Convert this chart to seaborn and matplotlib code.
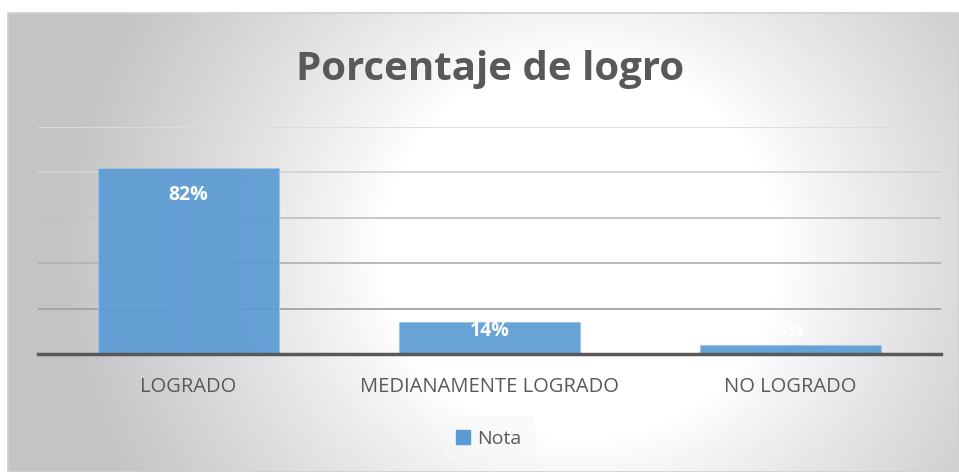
import numpy as np
import pandas as pd
import seaborn as sns
import matplotlib.pyplot as plt
from matplotlib.patches import Rectangle

categorias = ['LOGRADO', 'MEDIANAMENTE LOGRADO', 'NO LOGRADO']
porcentajes = [82, 14, 4]
serie = 'Nota'
titulo = 'Porcentaje de logro'

df = pd.DataFrame({'categoria': categorias, 'valor': porcentajes})

sns.set_style('white')
plt.rcParams['font.family'] = ['Open Sans', 'DejaVu Sans']

W, H = 959, 472
fig = plt.figure(figsize=(W / 100, H / 100), dpi=100)

# fondo con degradado radial (marco del grafico)
bg = fig.add_axes([8 / W, 0, 951 / W, 459 / H], zorder=0)
yy, xx = np.mgrid[0:459, 0:951]
r = np.hypot((xx + 8 - 580) * 0.95, yy + 13 - 250)
t = np.clip((r - 190) / 300, 0, 1) ** 0.9
shade = 1 - 0.23 * t
bg.imshow(np.dstack([shade] * 3), aspect='auto', interpolation='bilinear')
bg.set_axis_off()
fig.patches.append(Rectangle((8 / W, 0), 951 / W, 459 / H, transform=fig.transFigure,
                             fill=False, edgecolor='#d0d0d0', lw=1.2, zorder=1))

ax = fig.add_axes([38 / W, 1 - 354 / H, (941 - 38) / W, (354 - 127) / H], zorder=2)
ax.patch.set_alpha(0)
sns.barplot(data=df, x='categoria', y='valor', ax=ax, color='#5B9BD5', width=0.6,
            saturation=1, edgecolor='#9DC3E6', linewidth=0.8, alpha=0.92, zorder=3)
ax.set_ylim(0, 100)
ax.set_xlim(-0.5, 2.5)
# lineas de division: mas claras arriba, mas oscuras abajo
grid_cols = ['#a3a3a3', '#b3b3b3', '#c3c3c3', '#d2d2d2', '#dcdcdc']
for yv, c in zip([20, 40, 60, 80, 100], grid_cols):
    ax.axhline(yv, color=c, lw=1.3, zorder=1)
ax.tick_params(axis='y', left=False, labelleft=False)
ax.tick_params(axis='x', bottom=False, labelsize=14.5, labelcolor='#595959', pad=13)
ax.set_xlabel('')
ax.set_ylabel('')
for s in ['top', 'right', 'left']:
    ax.spines[s].set_visible(False)
ax.spines['bottom'].set_color('#595959')
ax.spines['bottom'].set_linewidth(2.5)
ax.spines['bottom'].set_zorder(5)

for i, v in enumerate(porcentajes):
    ypos = max(v - 12, 10.3)
    ax.text(i, ypos, f'{v}%', ha='center', va='center', color='white',
            fontsize=14, fontweight='bold', zorder=6)

fig.text(490 / W, 1 - 80 / H, titulo, ha='center', va='baseline', fontsize=29,
         fontweight='bold', color='#595959')

h = plt.Rectangle((0, 0), 1, 1, color='#5B9BD5')
leg = fig.legend([h], [serie], loc='center', bbox_to_anchor=(489 / W, 1 - 439 / H),
                 frameon=True, fontsize=14, handlelength=0.7, handleheight=0.7,
                 handletextpad=0.4, borderpad=0.7)
leg.get_frame().set_facecolor('#f7f7f7')
leg.get_frame().set_edgecolor('none')
leg.get_frame().set_alpha(0.6)
for txt in leg.get_texts():
    txt.set_color('#595959')

fig.savefig('out.png', dpi=100)
